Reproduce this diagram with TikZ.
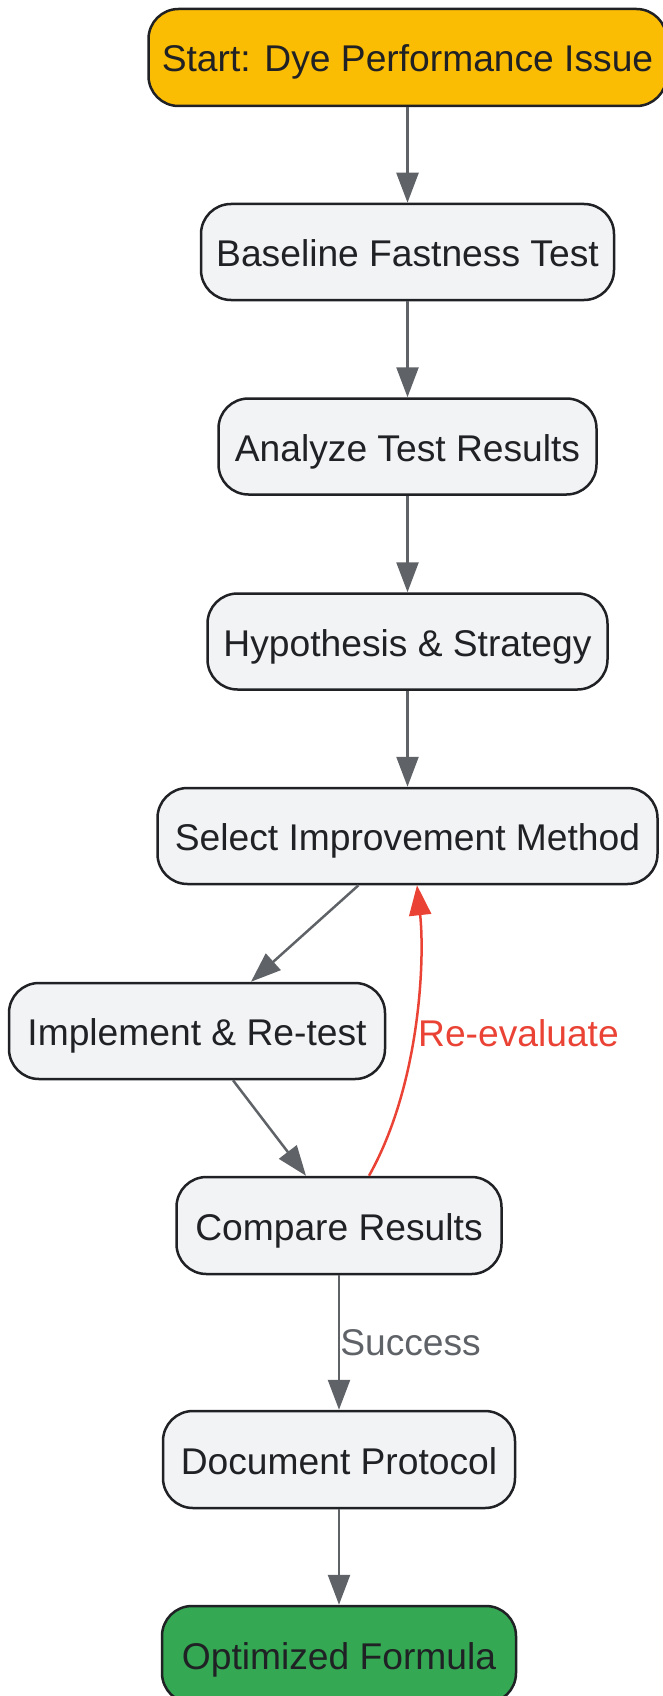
\documentclass[tikz,border=0pt]{standalone}
\usepackage{fontspec}
\setmainfont{Liberation Sans}
\usetikzlibrary{arrows.meta,calc}
\definecolor{boxfill}{HTML}{F1F3F5}
\definecolor{boxline}{HTML}{202124}
\definecolor{txt}{HTML}{202124}
\definecolor{edge}{HTML}{5F6368}
\definecolor{startc}{HTML}{FBBC04}
\definecolor{endc}{HTML}{34A853}
\definecolor{redc}{HTML}{EA4335}
\tikzset{
  flowbox/.style={draw=boxline, fill=boxfill, line width=2.5pt, rounded corners=30pt,
    minimum height=96pt, inner sep=0pt, text=txt, text height=29pt, text depth=0pt,
    font=\fontsize{37.2}{40}\selectfont},
  flowedge/.style={draw=edge, line width=2.5pt, -{Triangle[length=30pt,width=22pt]}},
  backedge/.style={draw=redc, line width=2.5pt, -{Triangle[length=30pt,width=22pt]}},
  elabel/.style={inner sep=0pt, anchor=west, font=\fontsize{37.2}{40}\selectfont}
}
\begin{document}
\begin{tikzpicture}[x=1pt,y=-1pt]
\useasboundingbox (0,0) rectangle (663,1696);
\clip (0,0) rectangle (663,1696);
\node[flowbox, fill=startc, minimum width=518pt, minimum height=97pt] (start) at (407.5,57.5) {Start: Dye Performance Issue};
\node[flowbox, minimum width=413pt] (base) at (407.5,252) {Baseline Fastness Test};
\node[flowbox, minimum width=378pt] (analyze) at (407.5,446.5) {Analyze Test Results};
\node[flowbox, minimum width=400pt] (hypo) at (407.5,641.5) {Hypothesis \& Strategy};
\node[flowbox, minimum width=500pt] (select) at (407.5,836) {Select Improvement Method};
\node[flowbox, minimum width=376pt] (impl) at (197,1031) {Implement \& Re-test};
\node[flowbox, minimum width=325pt, minimum height=97pt] (comp) at (339,1225.5) {Compare Results};
\node[flowbox, minimum width=352pt, minimum height=97pt] (doc) at (339,1459.5) {Document Protocol};
\node[flowbox, fill=endc, minimum width=354pt, minimum height=97pt] (opt) at (339,1654.5) {Optimized Formula};

\draw[flowedge] (start.south) -- (base.north);
\draw[flowedge] (base.south) -- (analyze.north);
\draw[flowedge] (analyze.south) -- (hypo.north);
\draw[flowedge] (hypo.south) -- (select.north);
\draw[flowedge] ($(select.south)+(-49,0)$) -- ($(impl.north)+(54,0)$);
\draw[flowedge] ($(impl.south)+(36,0)$) -- ($(comp.north)+(-33,0)$);
\draw[flowedge] (comp.south) -- (doc.north) node[midway, elabel, text=edge] (succ) {Success};
\draw[flowedge] (doc.south) -- (opt.north);
\draw[backedge] ($(comp.north)+(30,0)$) .. controls (420,1085) and (425,960) .. ($(select.south)+(9.5,0)$);
\node[elabel, text=redc] (reeval) at (418,1033) {Re-evaluate};
\end{tikzpicture}
\end{document}
